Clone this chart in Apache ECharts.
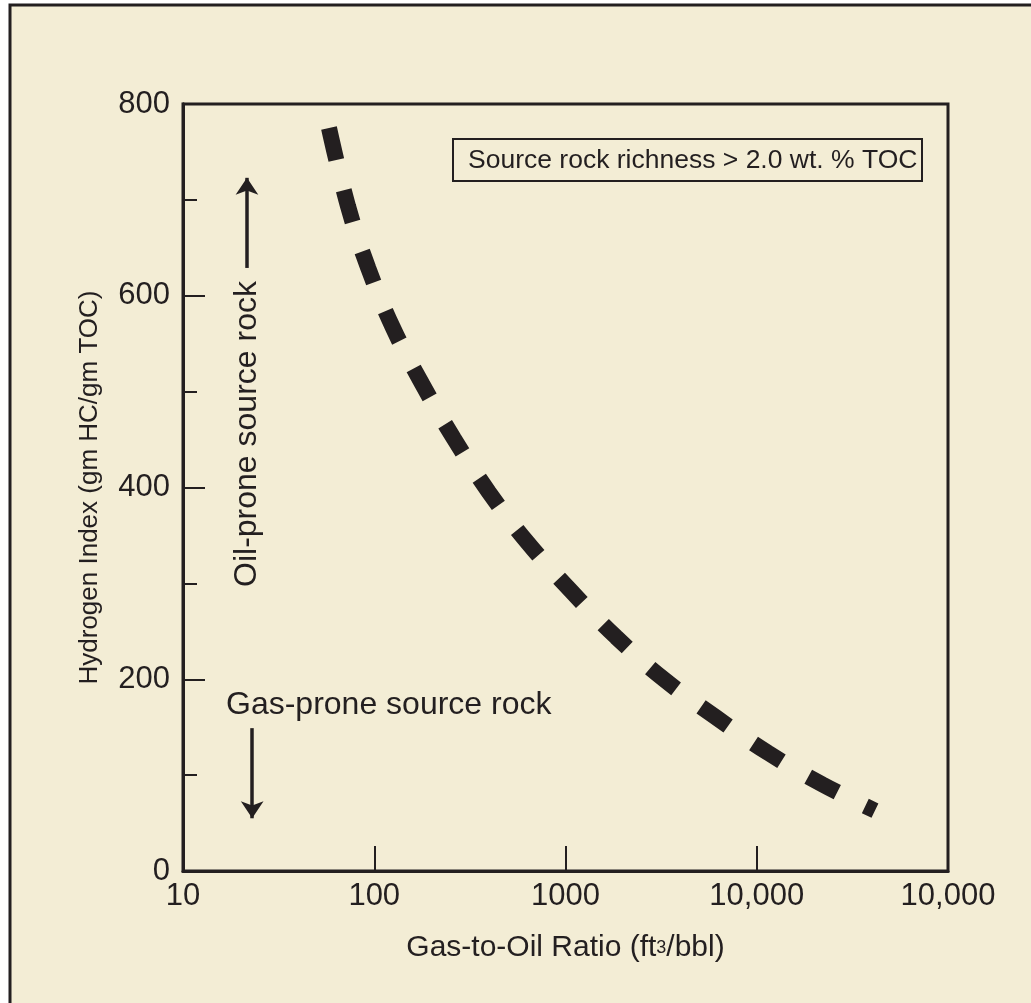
<!DOCTYPE html>
<html>
<head>
<meta charset="utf-8">
<script src="https://cdn.jsdelivr.net/npm/echarts@6/dist/echarts.min.js"></script>
<style>
  html, body { margin: 0; padding: 0; background: #fff; }
  #chart { width: 1031px; height: 1003px; }
</style>
</head>
<body>
<div id="chart"></div>
<script>
// Curve (GOR in ft3/bbl, HI in gm HC/gm TOC)
const gor = [58, 73, 93, 125, 178, 261, 398, 637, 1070, 1840, 3270, 6050, 11500, 22200, 41500];
const hydrogenIndex = [775, 693, 629, 567, 508, 451, 395, 342, 292, 244, 200, 161, 123, 90, 63];

// x tick labels as printed (last one really says 10,000)
const xTickLabels = ["10", "100", "1000", "10,000", "10,000"];

// Arrow annotations in data space: [gor, hi] from -> to
const oilArrow = [[21.6, 629], [21.6, 723]];
const gasArrow = [[23, 149], [23, 55]];

const ink = "#231F20";
const font = "Liberation Sans, Arial, Helvetica, sans-serif";

const chart = echarts.init(document.getElementById("chart"));

const option = {
  animation: false,
  backgroundColor: "#fff",
  textStyle: { fontFamily: font, color: ink },
  grid: {
    left: 183,
    right: 83,
    top: 104,
    bottom: 132,
    show: true,
    borderColor: ink,
    borderWidth: 3,
  },
  graphic: [
    {
      type: "rect",
      z: -100,
      shape: { x: 10, y: 5, width: 1040, height: 1020 },
      style: { fill: "#F3EDD5", stroke: ink, lineWidth: 3 },
    },
    {
      type: "rect",
      shape: { x: 453, y: 139, width: 469, height: 42 },
      style: { fill: "none", stroke: ink, lineWidth: 2 },
    },
    {
      type: "text",
      x: 468,
      y: 161,
      style: {
        text: "Source rock richness > 2.0 wt. % TOC",
        fontSize: 26.5,
        fontFamily: font,
        fill: ink,
        align: "left",
        verticalAlign: "middle",
        textAlign: "left",
        textVerticalAlign: "middle",
      },
    },
    {
      type: "text",
      x: 247,
      y: 434,
      rotation: Math.PI / 2,
      style: {
        text: "Oil-prone source rock",
        fontSize: 32,
        fontFamily: font,
        fill: ink,
        align: "center",
        verticalAlign: "middle",
        textAlign: "center",
        textVerticalAlign: "middle",
      },
    },
    {
      type: "text",
      x: 226,
      y: 705,
      style: {
        text: "Gas-prone source rock",
        fontSize: 32,
        fontFamily: font,
        fill: ink,
        align: "left",
        verticalAlign: "middle",
        textAlign: "left",
        textVerticalAlign: "middle",
      },
    },
  ],
  xAxis: {
    type: "log",
    logBase: 10,
    min: 10,
    max: 100000,
    name: "Gas-to-Oil Ratio (ft{sup|3}/bbl)",
    nameLocation: "middle",
    nameGap: 62,
    nameTextStyle: {
      fontSize: 30,
      color: ink,
      fontFamily: font,
      rich: {
        sup: { fontSize: 18, color: ink, fontFamily: font, verticalAlign: "middle" },
      },
    },
    axisLine: { lineStyle: { color: ink, width: 3 } },
    axisTick: { inside: true, length: 25, lineStyle: { color: ink, width: 2 } },
    minorTick: { show: false },
    splitLine: { show: false },
    axisLabel: {
      fontSize: 31,
      color: ink,
      margin: 10,
      showMinLabel: true,
      showMaxLabel: true,
      formatter: (v) => xTickLabels[Math.round(Math.log10(v)) - 1],
    },
  },
  yAxis: [
    {
      type: "value",
      min: 0,
      max: 800,
      interval: 100,
      position: "left",
      axisLine: { show: true, lineStyle: { color: ink, width: 3 } },
      axisTick: { show: true, inside: true, length: 14, lineStyle: { color: ink, width: 2 } },
      axisLabel: { show: false },
      splitLine: { show: false },
    },
    {
      type: "value",
      min: 0,
      max: 800,
      interval: 200,
      position: "left",
      name: "Hydrogen Index (gm HC/gm TOC)",
      nameLocation: "middle",
      nameGap: 80,
      nameRotate: 90,
      nameTextStyle: { fontSize: 26, color: ink, fontFamily: font },
      axisLine: { show: true, lineStyle: { color: ink, width: 3 } },
      axisTick: { show: true, inside: true, length: 22, lineStyle: { color: ink, width: 2 } },
      axisLabel: { fontSize: 31, color: ink, margin: 13 },
      splitLine: { show: false },
    },
  ],
  series: [
    {
      name: "HI vs GOR",
      type: "line",
      yAxisIndex: 0,
      data: gor.map((g, i) => [g, hydrogenIndex[i]]),
      smooth: 0.4,
      showSymbol: false,
      silent: true,
      lineStyle: { color: ink, width: 16, type: [33, 31], cap: "butt" },
    },
    {
      name: "arrows",
      type: "line",
      yAxisIndex: 0,
      data: [],
      silent: true,
      markLine: {
        silent: true,
        symbol: ["none", "arrow"],
        symbolSize: 17,
        label: { show: false },
        lineStyle: { color: ink, width: 3.5, type: "solid" },
        emphasis: { disabled: true },
        data: [
          [{ coord: oilArrow[0] }, { coord: oilArrow[1] }],
          [{ coord: gasArrow[0] }, { coord: gasArrow[1] }],
        ],
      },
    },
  ],
};

chart.setOption(option);
</script>
</body>
</html>
